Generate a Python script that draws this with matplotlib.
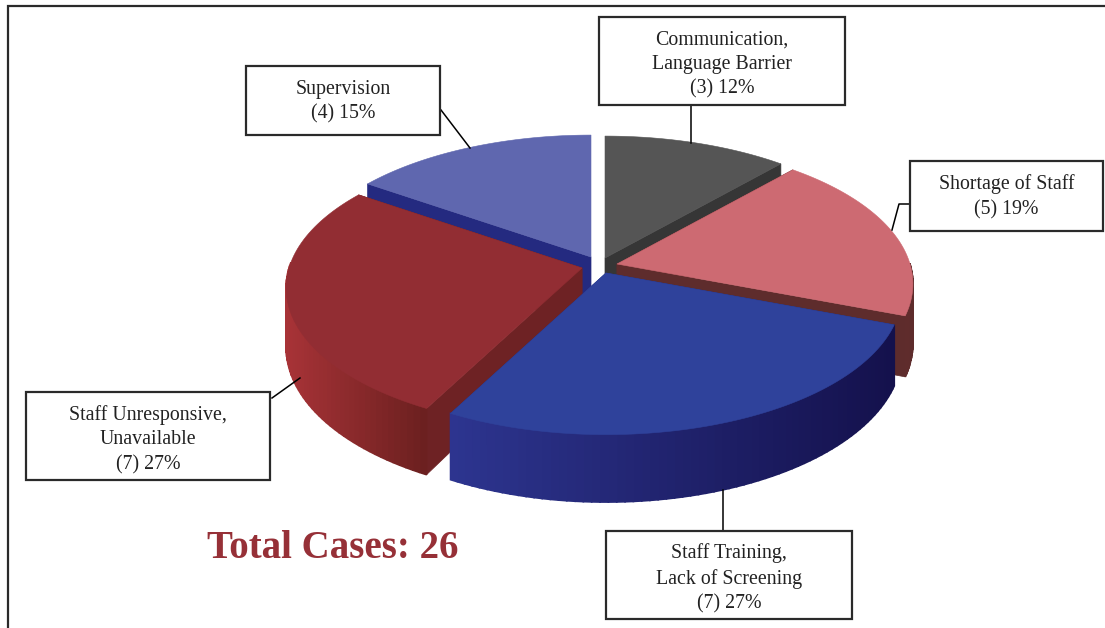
"""Exploded 3D style pie of contributing factors, total cases 26.
"""

import numpy as np
import matplotlib
matplotlib.use("Agg")
import matplotlib.pyplot as plt
from matplotlib.colors import to_rgb
from matplotlib.patches import Rectangle

# clockwise from 12 o'clock
factors = ["Communication,\nLanguage Barrier", "Shortage of Staff", "Staff Training,\nLack of Screening",
           "Staff Unresponsive,\nUnavailable", "Supervision"]
cases = [3, 5, 7, 7, 4]
percents = [12, 19, 27, 27, 15]
total_title = "Total Cases: 26"

top_colors = ["#555555", "#cd6a72", "#2f429b", "#922d33", "#5f67af"]
cut_colors = ["#363636", "#5e2c2c", "#26307f", "#6e2224", "#242a80"]
wall_left = ["#444444", "#6e3232", "#2d3590", "#a83337", "#2a3080"]
wall_right = ["#333333", "#5e2c2c", "#14114c", "#6c2020", "#242a80"]

# screen position of each wedge tip (exploded)
tips = [(605, 258), (617, 264), (606, 273), (582, 268), (591, 257)]
draw_order = [4, 0, 1, 3, 2]

# label boxes: x0, y0, x1, y1
boxes = [(599, 17, 845, 105), (910, 161, 1103, 231), (606, 531, 852, 619),
         (26, 392, 270, 480), (246, 66, 440, 135)]
leaders = [([691, 691], [105, 143]),
           ([910, 899, 892], [204, 204, 230]),
           ([723, 723], [490, 531]),
           ([272, 300], [398, 378]),
           ([441, 470], [110, 148])]

R = 293
Ry = 139
persp = 0.14
depth = 58


def project(theta):
    u = np.sin(theta)
    v = -np.cos(theta)
    s = 1.0 / (1 - persp * v)
    return R * u * s, Ry * v * s, s


fig = plt.figure(figsize=(11.05, 6.28), dpi=100)
ax = fig.add_axes([0, 0, 1, 1])
ax.set_xlim(0, 1105)
ax.set_ylim(628, 0)
ax.axis("off")

# page frame
ax.plot([8, 8, 1105], [628, 6, 6], color="#2a2a2a", lw=1.6, solid_joinstyle="miter")

edges = np.concatenate([[0], np.cumsum(cases)]) / sum(cases) * 2 * np.pi

for i in draw_order:
    cx, cy = tips[i]
    th = np.linspace(edges[i], edges[i + 1], 70)
    px, py, ps = project(th)
    xs = cx + px
    ys = cy + py
    bottoms = ys + depth * ps

    # flat cut faces running in to the tip, the vertical ones have no width
    for k in (0, -1):
        if abs(xs[k] - cx) < 1:
            continue
        ax.fill([cx, xs[k], xs[k], cx], [cy, ys[k], bottoms[k], cy + depth],
                color=cut_colors[i], lw=0.5)

    # outer wall as thin strips, shaded left to right
    c0 = np.array(to_rgb(wall_left[i]))
    c1 = np.array(to_rgb(wall_right[i]))
    span = max(xs.max() - xs.min(), 1)
    for j in range(len(th) - 1):
        if np.cos(th[j]) > 0.02:  # rear part is hidden
            continue
        t = (xs[j] - xs.min()) / span
        ax.fill([xs[j], xs[j + 1], xs[j + 1], xs[j]], [ys[j], ys[j + 1], bottoms[j + 1], bottoms[j]],
                color=c0 + (c1 - c0) * t, lw=1.2)

    # top surface
    ax.fill(np.r_[cx, xs], np.r_[cy, ys], color=top_colors[i], lw=0.4)

for (lx, ly) in leaders:
    ax.plot(lx, ly, color="black", lw=1.1, zorder=3)

for box, name, n, pct in zip(boxes, factors, cases, percents):
    x0, y0, x1, y1 = box
    # centred text sits a little high, more so with three lines
    nudge = 3.5 if "\n" in name else 1
    ax.add_patch(Rectangle((x0, y0), x1 - x0, y1 - y0, facecolor="white", edgecolor="#2a2a2a", lw=1.6, zorder=4))
    ax.text((x0 + x1) / 2, (y0 + y1) / 2 + nudge, f"{name}\n({n}) {pct}%", ha="center", va="center",
            family="Liberation Serif", fontsize=14.3, color="#222222", linespacing=1.4, zorder=5)

ax.text(333, 558, total_title, ha="center", va="baseline", family="Liberation Serif",
        fontweight="bold", fontsize=28, color="#963037", zorder=5)

fig.savefig("out.png", dpi=100)
